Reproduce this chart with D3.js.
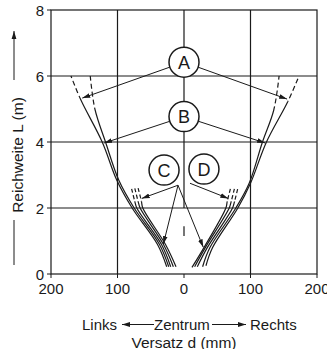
<!DOCTYPE html>
<html>
<head>
<meta charset="utf-8">
<script src="https://cdn.jsdelivr.net/npm/d3@7"></script>
<style>
  body { margin: 0; background: #fff; }
  svg { display: block; }
  text { font-family: "Liberation Sans", Arial, sans-serif; fill: #1a1a1a; }
</style>
</head>
<body>
<div id="chart"></div>
<script>
// Achsen
const xTicks = [-200, -100, 0, 100, 200];
const yTicks = [0, 2, 4, 6, 8];
const gridX = [-100, 100];
const gridY = [2, 4, 6];
const centerSolid = [8, 2.0];
const centerDash = [1.45, 1.15];

// Kurven [d (mm), L (m)] – links
const leftA = [[-26, 0.22], [-40, 0.9], [-78, 2.0], [-101, 2.84], [-123, 4.0], [-155, 5.27], [-170, 6.0]];
const leftB = [[-23, 0.22], [-37, 0.9], [-75, 2.0], [-98, 2.84], [-118, 4.0], [-134, 5.0], [-141, 6.0]];
const leftC1 = [[-20, 0.22], [-34, 0.9], [-71, 2.0], [-74, 2.2], [-79, 2.6]];
const leftC2 = [[-16, 0.22], [-31, 0.9], [-66, 2.0], [-69, 2.2], [-74, 2.6]];
const leftC3 = [[-12, 0.22], [-28, 0.9], [-62, 2.0], [-64, 2.2], [-69, 2.6]];
// Kurven – rechts
const rightA = [[33, 0.25], [43, 0.8], [81, 2.0], [100, 2.75], [124, 4.0], [156, 5.22], [173, 6.0]];
const rightB = [[28, 0.22], [39, 0.8], [78, 2.0], [98, 2.75], [118, 4.0], [135, 4.97], [143, 6.0]];
const rightD1 = [[20, 0.22], [35, 0.8], [73, 2.0], [76, 2.2], [81, 2.6]];
const rightD2 = [[16, 0.22], [32, 0.8], [68, 2.0], [71, 2.2], [76, 2.6]];
const rightD3 = [[12, 0.2], [30, 0.8], [63, 2.0], [65, 2.2], [70, 2.6]];

const curves = [leftA, leftB, leftC1, leftC2, leftC3, rightA, rightB, rightD1, rightD2, rightD3];
// ab dieser Reichweite gestrichelt
const dashFrom = [5.27, 5.0, 2.2, 2.2, 2.2, 5.22, 4.97, 2.2, 2.2, 2.2];

// Beschriftungskreise [Name, d, L]
const labels = [['A', 0, 6.42], ['B', 0, 4.77], ['C', -30, 3.15], ['D', 30, 3.18]];
// Pfeile von Kreis zu Kurve [Kreis, d, L]
const circleArrows = [['A', -153, 5.33], ['A', 155, 5.30], ['B', -120, 3.97], ['B', 122, 3.97]];
// Pfeile von Punkt [d0, L0, d1, L1]
const pointArrows = [[-9, 2.69, -63.6, 2.29], [-9, 2.69, -31, 0.91], [-9, 2.69, 29, 0.81], [9, 2.75, 66.6, 2.29]];

const width = 327, height = 349;
const svg = d3.select('#chart').append('svg')
    .attr('width', width).attr('height', height);

const x = d3.scaleLinear().domain([-200, 200]).range([51, 317]);
const y = d3.scaleLinear().domain([0, 8]).range([274, 10]);
const ink = '#1a1a1a';

const defs = svg.append('defs');
defs.append('marker')
    .attr('id', 'ah').attr('viewBox', '0 -5 10 10')
    .attr('refX', 10).attr('refY', 0)
    .attr('markerWidth', 8).attr('markerHeight', 8)
    .attr('markerUnits', 'userSpaceOnUse').attr('orient', 'auto')
  .append('path').attr('d', 'M0,-3L10,0L0,3Z').attr('fill', ink);

// Clips: unterer Teil durchgezogen, oberer gestrichelt
dashFrom.forEach((L, i) => {
    defs.append('clipPath').attr('id', 'lo' + i).append('rect')
        .attr('x', 0).attr('y', y(L)).attr('width', width).attr('height', height);
    defs.append('clipPath').attr('id', 'hi' + i).append('rect')
        .attr('x', 0).attr('y', 0).attr('width', width).attr('height', y(L));
});

// Gitter
svg.selectAll('.gx').data(gridX).enter().append('line')
    .attr('x1', d => x(d)).attr('x2', d => x(d))
    .attr('y1', y(0)).attr('y2', y(8))
    .attr('stroke', ink).attr('stroke-width', 1.2);
svg.selectAll('.gy').data(gridY).enter().append('line')
    .attr('x1', x(-200)).attr('x2', x(200))
    .attr('y1', d => y(d)).attr('y2', d => y(d))
    .attr('stroke', ink).attr('stroke-width', 1.2);
svg.append('line').attr('x1', x(0)).attr('x2', x(0))
    .attr('y1', y(centerSolid[0])).attr('y2', y(centerSolid[1]))
    .attr('stroke', ink).attr('stroke-width', 1.2);
svg.append('line').attr('x1', x(0)).attr('x2', x(0))
    .attr('y1', y(centerDash[0])).attr('y2', y(centerDash[1]))
    .attr('stroke', ink).attr('stroke-width', 1.2);
svg.append('rect')
    .attr('x', x(-200)).attr('y', y(8))
    .attr('width', x(200) - x(-200)).attr('height', y(0) - y(8))
    .attr('fill', 'none').attr('stroke', ink).attr('stroke-width', 1.2);

// Ticks
svg.selectAll('.ty').data(yTicks).enter().append('line')
    .attr('x1', x(-200) - 4).attr('x2', x(-200))
    .attr('y1', d => y(d)).attr('y2', d => y(d))
    .attr('stroke', ink).attr('stroke-width', 1);
svg.selectAll('.tyl').data(yTicks).enter().append('text')
    .attr('x', x(-200) - 7).attr('y', d => y(d) + 5.5)
    .attr('text-anchor', 'end').attr('font-size', '15px')
    .text(d => d);
svg.selectAll('.tx').data(xTicks).enter().append('line')
    .attr('x1', d => x(d)).attr('x2', d => x(d))
    .attr('y1', y(0)).attr('y2', y(0) + 4)
    .attr('stroke', ink).attr('stroke-width', 1);
svg.selectAll('.txl').data(xTicks).enter().append('text')
    .attr('x', d => x(d)).attr('y', 294)
    .attr('text-anchor', 'middle').attr('font-size', '15px')
    .text(d => Math.abs(d));

// Kurven
const line = d3.line().x(d => x(d[0])).y(d => y(d[1]))
    .curve(d3.curveCatmullRom.alpha(0.5));
svg.selectAll('.cs').data(curves).enter().append('path')
    .attr('d', line).attr('fill', 'none')
    .attr('clip-path', (d, i) => `url(#lo${i})`)
    .attr('stroke', ink).attr('stroke-width', 1.2);
svg.selectAll('.cd').data(curves).enter().append('path')
    .attr('d', line).attr('fill', 'none')
    .attr('clip-path', (d, i) => `url(#hi${i})`)
    .attr('stroke', ink).attr('stroke-width', 1.2)
    .attr('stroke-dasharray', (d, i) => dashFrom[i] > 3 ? '5,3' : '4,2.5')
    .attr('stroke-dashoffset', 20);

// Pfeile
const lab = Object.fromEntries(labels.map(l => [l[0], l]));
const r = 15;
svg.selectAll('.ca').data(circleArrows).enter().append('line')
    .each(function(d) {
        const c = lab[d[0]];
        const cx = x(c[1]), cy = y(c[2]), tx = x(d[1]), ty = y(d[2]);
        const len = Math.hypot(tx - cx, ty - cy);
        d3.select(this)
            .attr('x1', cx + (tx - cx) / len * r).attr('y1', cy + (ty - cy) / len * r)
            .attr('x2', tx).attr('y2', ty);
    })
    .attr('stroke', ink).attr('stroke-width', 1).attr('marker-end', 'url(#ah)');
svg.selectAll('.pa').data(pointArrows).enter().append('line')
    .attr('x1', d => x(d[0])).attr('y1', d => y(d[1]))
    .attr('x2', d => x(d[2])).attr('y2', d => y(d[3]))
    .attr('stroke', ink).attr('stroke-width', 1).attr('marker-end', 'url(#ah)');

// Kreise
const g = svg.selectAll('.lab').data(labels).enter().append('g')
    .attr('transform', d => `translate(${x(d[1])},${y(d[2])})`);
g.append('circle').attr('r', r).attr('fill', '#fff')
    .attr('stroke', ink).attr('stroke-width', 1.5);
g.append('text').attr('text-anchor', 'middle').attr('y', 6.5)
    .attr('font-size', '18px').text(d => d[0]);

// Achsentitel
svg.append('text')
    .attr('transform', 'translate(22.5,155) rotate(-90)')
    .attr('text-anchor', 'middle').attr('font-size', '15.5px')
    .text('Reichweite L (m)');
svg.append('line').attr('x1', 14).attr('x2', 14).attr('y1', 80).attr('y2', 31)
    .attr('stroke', ink).attr('stroke-width', 1).attr('marker-end', 'url(#ah)');
svg.append('line').attr('x1', 14).attr('x2', 14).attr('y1', 220).attr('y2', 265)
    .attr('stroke', ink).attr('stroke-width', 1);

svg.append('text').attr('x', 117).attr('y', 330)
    .attr('text-anchor', 'end').attr('font-size', '15px').text('Links');
svg.append('line').attr('x1', 154).attr('x2', 122).attr('y1', 324.5).attr('y2', 324.5)
    .attr('stroke', ink).attr('stroke-width', 1).attr('marker-end', 'url(#ah)');
svg.append('text').attr('x', 154).attr('y', 330)
    .attr('font-size', '15px').text('Zentrum');
svg.append('line').attr('x1', 212).attr('x2', 246).attr('y1', 324.5).attr('y2', 324.5)
    .attr('stroke', ink).attr('stroke-width', 1).attr('marker-end', 'url(#ah)');
svg.append('text').attr('x', 250).attr('y', 330)
    .attr('font-size', '15px').text('Rechts');
svg.append('text').attr('x', 184).attr('y', 347.5)
    .attr('text-anchor', 'middle').attr('font-size', '15.5px').text('Versatz d (mm)');
</script>
</body>
</html>
